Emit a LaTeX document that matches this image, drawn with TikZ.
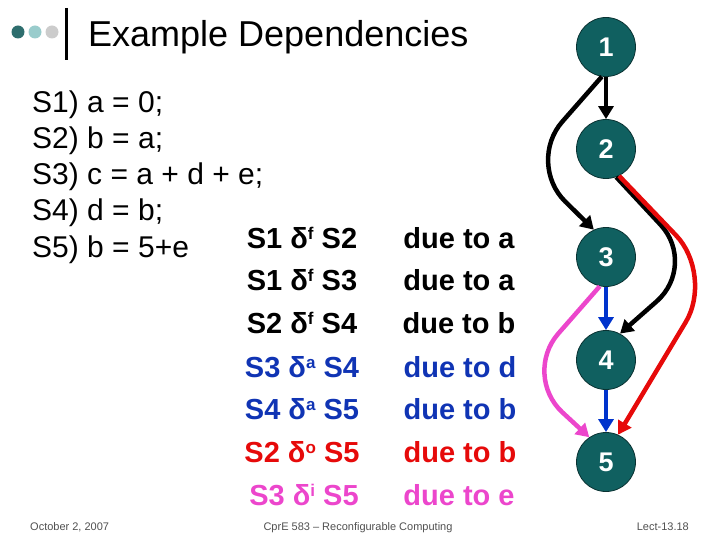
\documentclass[tikz,border=0pt]{standalone}
\usepackage{fontspec}
\setmainfont{Liberation Sans}
\usetikzlibrary{arrows.meta}
\definecolor{nodeteal}{RGB}{16,96,96}
\definecolor{nodeedge}{RGB}{10,50,50}
\definecolor{dotdark}{RGB}{46,110,110}
\definecolor{dotmid}{RGB}{153,204,204}
\definecolor{dotlight}{RGB}{204,204,204}
\definecolor{depblue}{RGB}{16,52,180}
\definecolor{arrblue}{RGB}{0,51,204}
\definecolor{depred}{RGB}{230,10,10}
\definecolor{deppink}{RGB}{236,70,204}
\definecolor{footgray}{RGB}{80,80,80}
\newcommand{\supx}[1]{\raisebox{0.55ex}{\fontsize{17}{17}\selectfont #1}}
\begin{document}
\begin{tikzpicture}[x=1pt,y=-1pt,
  stmtnode/.style={circle,minimum size=59pt,inner sep=0pt,fill=nodeteal,draw=nodeedge,line width=0.8pt,text=white,font=\bfseries\fontsize{27}{27}\selectfont},
  codeline/.style={anchor=base west,inner sep=0pt,font=\fontsize{30}{36}\selectfont},
  deprow/.style={anchor=base,inner sep=0pt,font=\bfseries\fontsize{29}{34}\selectfont},
  footer/.style={inner sep=0pt,anchor=base,text=footgray,font=\fontsize{11}{13}\selectfont},
  deparrow/.style={line width=4.5pt,rounded corners=55pt,-{Triangle[length=13pt,width=15pt]}},
  dot/.style={circle,inner sep=0pt,minimum size=13pt}]
\useasboundingbox (0,0) rectangle (720,540);

% title decoration
\node[dot,fill=dotdark] (d1) at (18,32) {};
\node[dot,fill=dotmid] (d2) at (35,32) {};
\node[dot,fill=dotlight] (d3) at (52,32) {};
\draw[line width=3pt] (66,8) -- (66,60);
\node[anchor=base west,inner sep=0pt,font=\fontsize{36}{36}\selectfont] (title) at (88,47) {Example Dependencies};

% code
\node[codeline] (s1) at (32,113) {S1) a = 0;};
\node[codeline] (s2) at (32,149) {S2) b = a;};
\node[codeline] (s3) at (32,185) {S3) c = a + d + e;};
\node[codeline] (s4) at (32,221) {S4) d = b;};
\node[codeline] (s5) at (32,257) {S5) b = 5+e};

% dependency table
\node[deprow] (r1a) at (302,248) {S1 δ\supx{f} S2};
\node[deprow] (r1b) at (459,248) {due to a};
\node[deprow] (r2a) at (302,290) {S1 δ\supx{f} S3};
\node[deprow] (r2b) at (459,290) {due to a};
\node[deprow] (r3a) at (302,333) {S2 δ\supx{f} S4};
\node[deprow] (r3b) at (459,333) {due to b};
\node[deprow,text=depblue] (r4a) at (302,377) {S3 δ\supx{a} S4};
\node[deprow,text=depblue] (r4b) at (460,377) {due to d};
\node[deprow,text=depblue] (r5a) at (302,419) {S4 δ\supx{a} S5};
\node[deprow,text=depblue] (r5b) at (460,419) {due to b};
\node[deprow,text=depred] (r6a) at (302,462) {S2 δ\supx{o} S5};
\node[deprow,text=depred] (r6b) at (460,462) {due to b};
\node[deprow,text=deppink] (r7a) at (304,505) {S3 δ\supx{i} S5};
\node[deprow,text=deppink] (r7b) at (459,505) {due to e};

% graph nodes
\node[stmtnode] (n1) at (606,47) {1};
\node[stmtnode] (n2) at (606,149) {2};
\node[stmtnode] (n3) at (606,257) {3};
\node[stmtnode] (n4) at (606,360) {4};
\node[stmtnode] (n5) at (606,462) {5};

% connectors
\draw[deparrow] (n1.south) -- (n2.north);
\draw[deparrow] (n1.262) -- (526,163) -- (n3.114);
\draw[deparrow] (n2.290) -- (698,265) -- (n4.62);
\draw[deparrow,color=depred] (n2.296) -- (714,275) -- (n5.66);
\draw[deparrow,color=arrblue] (n3.south) -- (n4.north);
\draw[deparrow,color=arrblue] (n4.south) -- (n5.north);
\draw[deparrow,color=deppink] (n3.258) -- (522,375) -- (n5.124);

% footer
\node[footer,anchor=base west] (f1) at (30,530) {October 2, 2007};
\node[footer] (f2) at (358,530) {CprE 583 – Reconfigurable Computing};
\node[footer,anchor=base east] (f3) at (689,530) {Lect-13.18};
\end{tikzpicture}
\end{document}
